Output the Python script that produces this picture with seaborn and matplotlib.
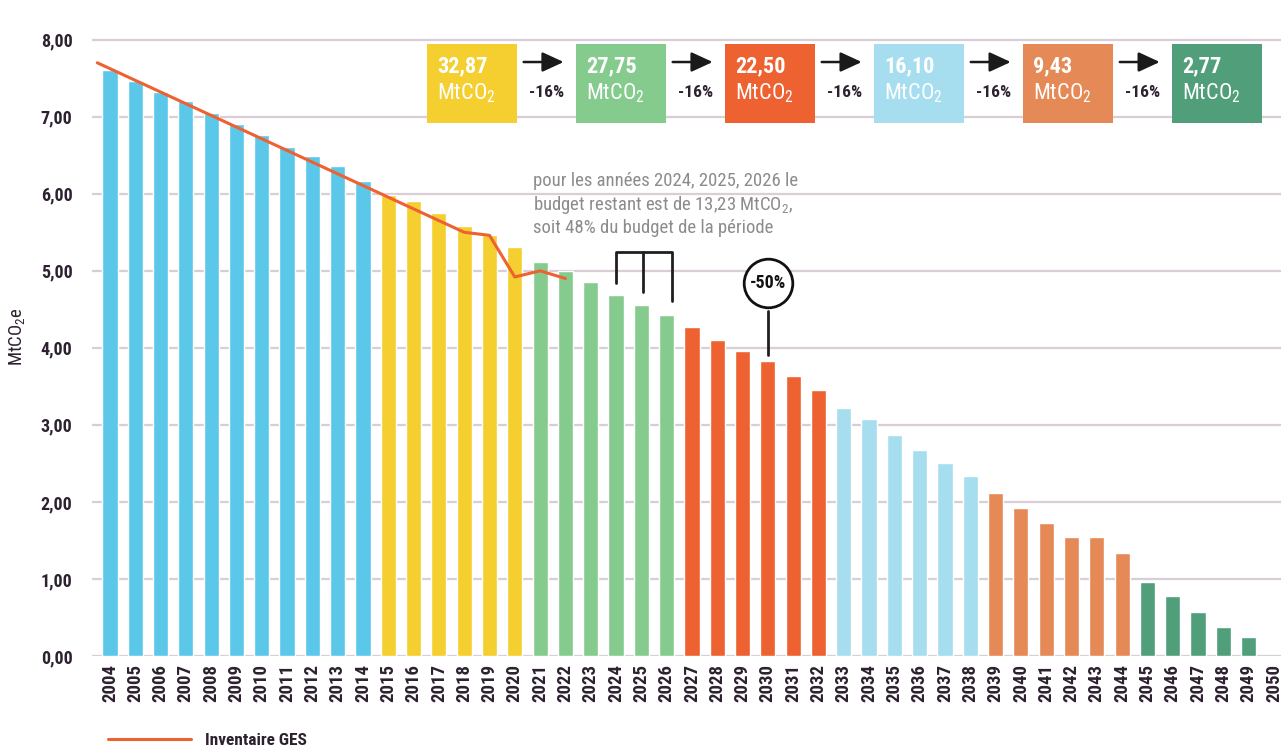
import numpy as np
import pandas as pd
import seaborn as sns
import matplotlib.pyplot as plt
from matplotlib import font_manager

# ---- data ----
years = list(range(2004, 2050))
emissions = [7.61, 7.46, 7.32, 7.20, 7.05, 6.90, 6.76, 6.61, 6.49, 6.36, 6.16,
             5.98, 5.90, 5.75, 5.58, 5.46, 5.31,
             5.12, 5.00, 4.86, 4.69, 4.55, 4.42,
             4.27, 4.10, 3.96, 3.83, 3.64, 3.45,
             3.22, 3.08, 2.87, 2.68, 2.51, 2.34,
             2.12, 1.92, 1.73, 1.55, 1.55, 1.34,
             0.96, 0.78, 0.57, 0.38, 0.25]
periods = (['2004-2014'] * 11 + ['2015-2020'] * 6 + ['2021-2026'] * 6 +
           ['2027-2032'] * 6 + ['2033-2038'] * 6 + ['2039-2044'] * 6 +
           ['2045-2049'] * 5)
period_colors = {'2004-2014': '#5bc8ea', '2015-2020': '#f5cf30',
                 '2021-2026': '#86cb8e', '2027-2032': '#ee6130',
                 '2033-2038': '#a6def0', '2039-2044': '#e58a57',
                 '2045-2049': '#509e7a'}

inv_years = [2003.5, 2018, 2019, 2020, 2021, 2022]
inv_values = [7.70, 5.50, 5.46, 4.92, 5.00, 4.90]

budget_values = ['32,87', '27,75', '22,50', '16,10', '9,43', '2,77']
budget_colors = ['#f5cf30', '#86cb8e', '#ee6130', '#a6def0', '#e58a57', '#509e7a']
reduction_label = '-16%'

note_lines = ['pour les années 2024, 2025, 2026 le',
              'budget restant est de 13,23 MtCO$_2$,',
              'soit 48% du budget de la période']

# ---- fonts ----
installed = {f.name for f in font_manager.fontManager.ttflist}
family = 'DejaVu Sans'
for cand in ['Liberation Sans Narrow', 'DejaVu Sans Condensed', 'Roboto Condensed', 'Roboto']:
    if cand in installed:
        family = cand
        break

sns.set_style('white')
plt.rcParams['font.family'] = [family, 'DejaVu Sans']
plt.rcParams['mathtext.default'] = 'regular'

dark = '#2d2130'
grid_c = '#d9cdd8'

fig = plt.figure(figsize=(12.81, 7.47), dpi=100)
ax = fig.add_axes([0.0718, 0.1218, 0.9282, 0.855])

df = pd.DataFrame({'year': years, 'value': emissions, 'period': periods})
sns.barplot(data=df, x='year', y='value', hue='period', palette=period_colors,
            native_scale=True, width=0.6, dodge=False, legend=False,
            saturation=1, ax=ax, zorder=2)
sns.lineplot(x=inv_years, y=inv_values, color='#ee6130', lw=2.2,
             label='Inventaire GES', ax=ax, zorder=3, sort=False)

ax.set_xlim(2003.29, 2050.28)
ax.set_ylim(0, 8.29)
yt = np.arange(0, 9)
ax.set_yticks(yt)
ax.set_yticklabels([f'{v},00' for v in yt], fontsize=13, fontweight='bold', color=dark)
ax.set_xticks(range(2004, 2051))
ax.set_xticklabels([str(y) for y in range(2004, 2051)], rotation=90,
                   fontsize=13.5, fontweight='bold', color=dark)
ax.tick_params(axis='both', length=0, pad=6)
ax.tick_params(axis='y', pad=14)
for s in ax.spines.values():
    s.set_visible(False)
for v in yt:
    ax.axhline(v, color=grid_c, lw=1.6, zorder=1)
ax.set_xlabel('')
ax.set_ylabel('MtCO$_2$e', fontsize=13.5, color=dark)
ax.yaxis.set_label_coords(-0.055, 0.5)

# ---- budget boxes ----
box_w, box_h = 3.56, 1.02
for i, (val, col) in enumerate(zip(budget_values, budget_colors)):
    x0 = 2016.53 + i * 5.89
    ax.add_patch(plt.Rectangle((x0, 6.92), box_w, box_h, facecolor=col,
                               edgecolor='none', zorder=4, clip_on=False))
    ax.text(x0 + 0.4, 7.66, val, color='white', fontsize=16, fontweight='bold',
            va='center', ha='left', zorder=5)
    ax.text(x0 + 0.4, 7.30, 'MtCO$_2$', color='white', fontsize=16,
            va='center', ha='left', zorder=5)
    if i < len(budget_values) - 1:
        ax.annotate('', xy=(x0 + box_w + 1.95, 7.71), xytext=(x0 + box_w + 0.15, 7.71),
                    arrowprops=dict(arrowstyle='-|>,head_length=1.3,head_width=0.6',
                                    color='#1a1a1a', lw=1.8), zorder=5)
        ax.text(x0 + box_w + 1.15, 7.32, reduction_label, color=dark, fontsize=12.5,
                fontweight='bold', ha='center', va='center')

# ---- note ----
for k, line in enumerate(note_lines):
    ax.text(2020.72, 6.16 - k * 0.30, line, color='#8c8c8c', fontsize=13.5,
            ha='left', va='center', zorder=5)

# bracket over 2024-2026
ax.plot([2024, 2024, 2026.2, 2026.2], [4.84, 5.24, 5.24, 4.61], color='#1f1f1f', lw=2, zorder=5)
ax.plot([2025.05, 2025.05], [5.24, 4.73], color='#1f1f1f', lw=2, zorder=5)

# -50% marker
ax.plot([2030], [4.84], marker='o', ms=35, mfc='white', mec='#111111', mew=2, zorder=5)
ax.text(2030, 4.84, '-50%', fontsize=13, fontweight='bold', color='#111111',
        ha='center', va='center', zorder=6)
ax.plot([2030, 2030], [4.48, 3.91], color='#1f1f1f', lw=2, zorder=5)

leg = ax.legend(loc='lower left', bbox_to_anchor=(0.072, -0.022), bbox_transform=fig.transFigure,
                frameon=False, handlelength=4.8, fontsize=12.5)
for t in leg.get_texts():
    t.set_fontweight('bold')
    t.set_color(dark)

fig.savefig('out.png', dpi=100)
